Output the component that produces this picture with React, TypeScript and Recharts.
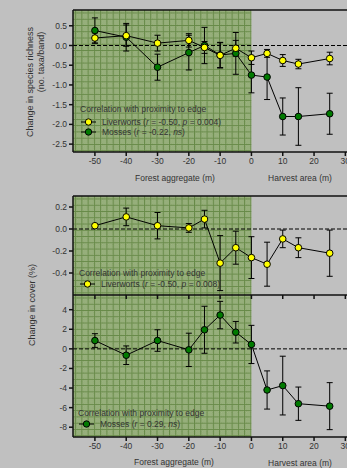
import React from "react";
import {
  ErrorBar,
  Line,
  LineChart,
  ReferenceArea,
  ReferenceLine,
  XAxis,
  YAxis,
} from "recharts";

const distances = [-50, -40, -30, -20, -15, -10, -5, 0, 5, 10, 15, 25];
const xTicks = [-50, -40, -30, -20, -10, 0, 10, 20, 30];

// richness panel
const richLiverworts = [0.19, 0.25, 0.06, 0.13, -0.05, -0.25, -0.07, -0.31, -0.2, -0.38, -0.47, -0.33];
const richLiverwortsErr = [0.13, 0.27, 0.2, 0.17, 0.15, 0.32, 0.2, 0.17, 0.1, 0.15, 0.12, 0.16];
const richMosses = [0.38, 0.21, -0.55, -0.18, 0.0, -0.24, -0.2, -0.75, -0.8, -1.8, -1.8, -1.73];
const richMossesErr = [0.32, 0.35, 0.33, 0.44, 0.46, 0.32, 0.53, 0.45, 0.57, 0.47, 0.73, 0.52];
const richTicks = [0.5, 0, -0.5, -1, -1.5, -2, -2.5];

// cover panels
const coverLiverworts = [0.03, 0.11, 0.03, 0.01, 0.09, -0.31, -0.17, -0.26, -0.32, -0.09, -0.17, -0.22];
const coverLiverwortsErr = [0.01, 0.08, 0.12, 0.04, 0.08, 0.25, 0.15, 0.19, 0.2, 0.08, 0.09, 0.21];
const coverLwTicks = [0.2, 0, -0.2, -0.4];
const coverMosses = [0.85, -0.65, 0.85, -0.1, 1.95, 3.45, 1.7, 0.45, -4.2, -3.75, -5.6, -5.85];
const coverMossesErr = [0.7, 0.95, 1.1, 1.7, 2.4, 1.4, 1.1, 1.95, 1.95, 3.0, 1.7, 2.4];
const coverMsTicks = [4, 2, 0, -2, -4, -6, -8];

const X_DOMAIN: [number, number] = [-57, 35];
const FONT = "Arial, 'Liberation Sans', sans-serif";
const TEXT = "#333";
const YELLOW = "#ffff00";
const GREEN = "#007a00";

const richData = distances.map((x, i) => ({
  x,
  lw: richLiverworts[i],
  lwErr: richLiverwortsErr[i],
  ms: richMosses[i],
  msErr: richMossesErr[i],
}));
const coverLwData = distances.map((x, i) => ({ x, lw: coverLiverworts[i], lwErr: coverLiverwortsErr[i] }));
const coverMsData = distances.map((x, i) => ({ x, ms: coverMosses[i], msErr: coverMossesErr[i] }));

const tickStyle = { fill: TEXT, fontSize: 8.5, fontFamily: FONT };

function Hatch({ id }: { id: string }) {
  return (
    <defs>
      <pattern id={`d-${id}`} width="2" height="2" patternUnits="userSpaceOnUse">
        <rect width="2" height="2" fill="#84a166" />
        <rect width="1" height="1" fill="#a9bd90" />
        <rect x="1" y="1" width="1" height="1" fill="#a9bd90" />
      </pattern>
      <pattern id={id} width="6.26" height="6.26" patternUnits="userSpaceOnUse">
        <rect width="6.26" height="6.26" fill={`url(#d-${id})`} />
        <path d="M0 0.5H6.26M0.5 0V6.26" stroke="#678a48" strokeWidth="1" />
      </pattern>
    </defs>
  );
}

function series(key: string, errKey: string, fill: string) {
  return (
    <Line
      type="linear"
      dataKey={key}
      stroke="#000"
      strokeWidth={1}
      dot={{ r: 3.3, fill, stroke: "#000", strokeWidth: 1 }}
      activeDot={false}
      isAnimationActive={false}
    >
      <ErrorBar dataKey={errKey} direction="y" width={3} stroke="#000" strokeWidth={1} />
    </Line>
  );
}

function LegendRow({ fill, children }: { fill: string; children: React.ReactNode }) {
  return (
    <div style={{ display: "flex", alignItems: "center", height: 10 }}>
      <svg width="22" height="10" style={{ flex: "none" }}>
        <line x1="1" y1="5" x2="16" y2="5" stroke="#000" strokeWidth="1" />
        <circle cx="8.5" cy="5" r="3.2" fill={fill} stroke="#000" strokeWidth="1" />
      </svg>
      <span>{children}</span>
    </div>
  );
}

const abs = (left: number, top: number, extra: React.CSSProperties = {}): React.CSSProperties => ({
  position: "absolute",
  left,
  top,
  fontFamily: FONT,
  color: TEXT,
  fontSize: 8.5,
  whiteSpace: "nowrap",
  ...extra,
});

const rotated = (cx: number, cy: number, text: string) => (
  <div
    style={abs(cx, cy, {
      fontSize: 9,
      transform: "translate(-50%, -50%) rotate(-90deg)",
      lineHeight: "10px",
    })}
  >
    {text}
  </div>
);

export default function App() {
  return (
    <div
      style={{
        position: "fixed",
        left: 0,
        top: 0,
        width: 347,
        height: 468,
        overflow: "hidden",
        background: "#c0c0c0",
      }}
    >
      {/* richness */}
      <div style={{ position: "absolute", left: 0, top: 0 }}>
        <LineChart width={380} height={182} data={richData} margin={{ top: 10, right: 19, left: 0, bottom: 0 }}>
          <Hatch id="h1" />
          <ReferenceArea x1={-57} x2={0} y1={-2.7} y2={0.9} fill="url(#h1)" fillOpacity={1} stroke="none" />
          <XAxis
            type="number"
            dataKey="x"
            domain={X_DOMAIN}
            ticks={xTicks}
            allowDataOverflow
            height={30}
            tickSize={4}
            stroke="#111"
            strokeWidth={1.5}
            tick={tickStyle}
          />
          <YAxis
            type="number"
            domain={[-2.7, 0.9]}
            ticks={richTicks}
            allowDataOverflow
            width={73}
            tickSize={4}
            stroke="#111"
            strokeWidth={1.5}
            tick={tickStyle}
            tickFormatter={(v: number) => v.toFixed(1)}
          />
          <ReferenceLine y={0.9} stroke="#111" strokeWidth={1.5} />
          <ReferenceLine y={0} stroke="#000" strokeDasharray="4 2" />
          {series("ms", "msErr", GREEN)}
          {series("lw", "lwErr", YELLOW)}
        </LineChart>
      </div>

      {/* moss cover (drawn first so liverwort ticks sit on top) */}
      <div style={{ position: "absolute", left: 0, top: 285 }}>
        <LineChart width={380} height={182} data={coverMsData} margin={{ top: 10, right: 19, left: 0, bottom: 0 }}>
          <Hatch id="h3" />
          <ReferenceArea x1={-57} x2={0} y1={-9} y2={5.5} fill="url(#h3)" fillOpacity={1} stroke="none" />
          <XAxis
            type="number"
            dataKey="x"
            domain={X_DOMAIN}
            ticks={xTicks}
            allowDataOverflow
            height={30}
            tickSize={4}
            stroke="#111"
            strokeWidth={1.5}
            tick={tickStyle}
          />
          <YAxis
            type="number"
            domain={[-9, 5.5]}
            ticks={coverMsTicks}
            allowDataOverflow
            width={73}
            tickSize={4}
            stroke="#111"
            strokeWidth={1.5}
            tick={tickStyle}
          />
          <ReferenceLine y={0} stroke="#000" strokeDasharray="4 2" />
          {series("ms", "msErr", GREEN)}
        </LineChart>
      </div>

      {/* liverwort cover */}
      <div style={{ position: "absolute", left: 0, top: 186 }}>
        <LineChart width={380} height={115} data={coverLwData} margin={{ top: 10, right: 19, left: 0, bottom: 0 }}>
          <Hatch id="h2" />
          <ReferenceArea x1={-57} x2={0} y1={-0.6} y2={0.3} fill="url(#h2)" fillOpacity={1} stroke="none" />
          <XAxis
            type="number"
            dataKey="x"
            domain={X_DOMAIN}
            ticks={xTicks}
            allowDataOverflow
            height={6}
            tickSize={4}
            stroke="#111"
            strokeWidth={1.5}
            tick={tickStyle}
            tickFormatter={() => ""}
          />
          <YAxis
            type="number"
            domain={[-0.6, 0.3]}
            ticks={coverLwTicks}
            allowDataOverflow
            width={73}
            tickSize={4}
            stroke="#111"
            strokeWidth={1.5}
            tick={tickStyle}
            tickFormatter={(v: number) => v.toFixed(1)}
          />
          <ReferenceLine y={0.3} stroke="#111" strokeWidth={1.5} />
          <ReferenceLine y={0} stroke="#000" strokeDasharray="4 2" />
          {series("lw", "lwErr", YELLOW)}
        </LineChart>
      </div>

      {/* axis titles */}
      {rotated(30, 82, "Change in species richness")}
      {rotated(41, 62, "(no. taxa/band)")}
      {rotated(32, 305, "Change in cover (%)")}
      <div style={abs(175, 178, { transform: "translate(-50%, -50%)" })}>Forest aggregate (m)</div>
      <div style={abs(300, 178, { transform: "translate(-50%, -50%)" })}>Harvest area (m)</div>
      <div style={abs(174, 462, { transform: "translate(-50%, -50%)" })}>Forest aggregate (m)</div>
      <div style={abs(300, 463, { transform: "translate(-50%, -50%)" })}>Harvest area (m)</div>

      {/* legends */}
      <div style={abs(80, 104, { lineHeight: "10px" })}>
        <div>Correlation with proximity to edge</div>
        <div style={{ height: 3 }} />
        <LegendRow fill={YELLOW}>
          Liverworts (<i>r</i> = -0.50, <i>p</i> = 0.004)
        </LegendRow>
        <LegendRow fill={GREEN}>
          Mosses (<i>r</i> = -0.22, <i>ns</i>)
        </LegendRow>
      </div>
      <div style={abs(79, 268, { lineHeight: "10px" })}>
        <div>Correlation with proximity to edge</div>
        <div style={{ height: 1 }} />
        <LegendRow fill={YELLOW}>
          Liverworts (<i>r</i> = -0.50, <i>p</i> = 0.008)
        </LegendRow>
      </div>
      <div style={abs(78, 408, { lineHeight: "10px" })}>
        <div>Correlation with proximity to edge</div>
        <div style={{ height: 1 }} />
        <LegendRow fill={GREEN}>
          Mosses (<i>r</i> = 0.29, <i>ns</i>)
        </LegendRow>
      </div>
    </div>
  );
}
